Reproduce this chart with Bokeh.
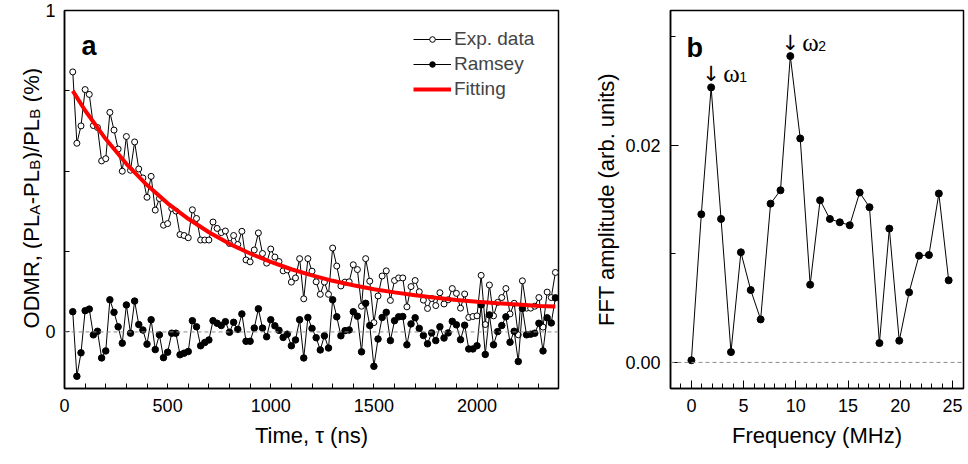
import math
from bokeh.plotting import figure
from bokeh.models import (FixedTicker, Span, Label, Legend, LegendItem,
                          NumeralTickFormatter, Range1d, ColumnDataSource)
from bokeh.layouts import row
from bokeh.embed import file_html
from bokeh.resources import INLINE

# ---------------- data: panel a ----------------
time_ns = [40, 60, 80, 100, 120, 140, 160, 180, 200, 220, 240, 260, 280, 300, 320, 340,
           360, 380, 400, 420, 440, 460, 480, 500, 520, 540, 560, 580, 600, 620, 640, 660,
           680, 700, 720, 740, 760, 780, 800, 820, 840, 860, 880, 900, 920, 940, 960, 980,
           1000, 1020, 1040, 1060, 1080, 1100, 1120, 1140, 1160, 1180, 1200, 1220, 1240,
           1260, 1280, 1300, 1320, 1340, 1360, 1380, 1400, 1420, 1440, 1460, 1480, 1500,
           1520, 1540, 1560, 1580, 1600, 1620, 1640, 1660, 1680, 1700, 1720, 1740, 1760,
           1780, 1800, 1820, 1840, 1860, 1880, 1900, 1920, 1940, 1960, 1980, 2000, 2020,
           2040, 2060, 2080, 2100, 2120, 2140, 2160, 2180, 2200, 2220, 2240, 2260, 2280,
           2300, 2320, 2340, 2360, 2380]

exp_data = [0.809, 0.587, 0.641, 0.754, 0.739, 0.642, 0.636, 0.532, 0.539, 0.683, 0.628,
            0.569, 0.500, 0.608, 0.503, 0.591, 0.507, 0.479, 0.419, 0.484, 0.379, 0.415,
            0.332, 0.337, 0.384, 0.376, 0.303, 0.300, 0.293, 0.380, 0.353, 0.286, 0.286,
            0.286, 0.342, 0.322, 0.309, 0.314, 0.275, 0.300, 0.272, 0.313, 0.224, 0.218,
            0.255, 0.308, 0.244, 0.214, 0.258, 0.233, 0.219, 0.190, 0.193, 0.155, 0.168,
            0.228, 0.103, 0.228, 0.189, 0.156, 0.117, 0.155, 0.117, 0.261, 0.205, 0.143,
            0.155, 0.156, 0.209, 0.194, 0.080, 0.228, 0.158, 0.029, 0.112, 0.174, 0.190,
            0.098, 0.160, 0.168, 0.168, 0.078, 0.141, 0.160, 0.125, 0.099, 0.073, 0.104,
            0.082, 0.122, 0.087, 0.100, 0.135, 0.120, 0.074, 0.118, 0.045, 0.048, 0.050,
            0.176, 0.023, 0.146, 0.050, 0.092, 0.107, 0.135, 0.056, 0.089, -0.009, 0.159,
            0.074, 0.074, 0.080, 0.107, 0.015, 0.124, 0.107, 0.185]

ramsey = [0.063, -0.138, -0.065, 0.066, 0.071, -0.009, 0.002, -0.081, -0.059, 0.100, 0.061,
          0.016, -0.035, 0.084, -0.004, 0.096, 0.023, 0.006, -0.038, 0.038, -0.055, -0.009,
          -0.080, -0.063, -0.004, -0.004, -0.071, -0.066, -0.061, 0.035, 0.016, -0.043,
          -0.033, -0.025, 0.035, 0.027, 0.020, 0.032, -0.001, 0.030, 0.008, 0.056, -0.029,
          -0.029, 0.012, 0.072, 0.012, -0.015, 0.038, 0.019, 0.005, -0.017, -0.007, -0.043,
          -0.025, 0.038, -0.081, 0.045, 0.011, -0.018, -0.056, -0.012, -0.050, 0.100, 0.047,
          -0.012, 0.004, 0.006, 0.063, 0.049, -0.062, 0.089, 0.020, -0.107, -0.022, 0.045,
          0.061, -0.027, 0.035, 0.047, 0.048, -0.040, 0.025, 0.044, 0.011, -0.011, -0.037,
          -0.003, -0.027, 0.016, -0.019, -0.003, 0.033, 0.022, -0.024, 0.021, -0.053, -0.053,
          -0.043, 0.084, -0.070, 0.053, -0.040, 0.001, 0.020, 0.047, -0.032, 0.002, -0.092,
          0.073, -0.009, -0.007, -0.004, 0.027, -0.059, 0.044, 0.028, 0.106]

fit_time = [40, 100, 200, 300, 400, 500, 600, 700, 800, 900, 1000, 1100, 1200, 1300, 1400,
            1500, 1600, 1700, 1800, 1900, 2000, 2100, 2200, 2300, 2380]
fit_vals = [0.750, 0.689, 0.600, 0.523, 0.457, 0.400, 0.352, 0.310, 0.274, 0.244, 0.218,
            0.195, 0.176, 0.159, 0.145, 0.133, 0.123, 0.114, 0.106, 0.0995, 0.094, 0.089,
            0.085, 0.081, 0.079]

xa_major = [0, 500, 1000, 1500, 2000]
xa_minor = [100, 200, 300, 400, 600, 700, 800, 900, 1100, 1200, 1300, 1400, 1600, 1700,
            1800, 1900, 2100, 2200, 2300]
ya_major = [0, 1]
ya_minor = [0.25, 0.5, 0.75]

# ---------------- data: panel b ----------------
freq_mhz = [0.0, 0.95, 1.89, 2.84, 3.79, 4.74, 5.68, 6.63, 7.58, 8.53, 9.47, 10.42, 11.37,
            12.32, 13.26, 14.21, 15.16, 16.11, 17.05, 18.0, 18.95, 19.9, 20.84, 21.79,
            22.74, 23.69, 24.63]
fft_amp = [0.0002, 0.01364, 0.02532, 0.01321, 0.00095, 0.01014, 0.00666, 0.00396, 0.01462,
           0.01585, 0.0282, 0.02062, 0.00716, 0.01493, 0.01321, 0.0129, 0.01263, 0.01564,
           0.01429, 0.00178, 0.01232, 0.0020, 0.00645, 0.00983, 0.00989, 0.01555, 0.00756]

xb_major = [0, 5, 10, 15, 20, 25]
xb_minor = [-1, 1, 2, 3, 4, 6, 7, 8, 9, 11, 12, 13, 14, 16, 17, 18, 19, 21, 22, 23, 24]
yb_major = [0.0, 0.02]
yb_minor = [0.01, 0.03]

FONT = "Liberation Sans"
H = 462
TOP_A, BOT_A = 10, 390          # frame top / bottom of panel a (page pixels)


def style_axes(p):
    p.xgrid.visible = False
    p.ygrid.visible = False
    p.outline_line_color = "black"
    p.outline_line_width = 1.5
    p.background_fill_color = "white"
    p.border_fill_color = "white"
    for ax in (p.xaxis[0], p.yaxis[0]):
        ax.axis_line_width = 1.5
        ax.axis_line_color = "black"
        ax.major_tick_line_color = "black"
        ax.minor_tick_line_color = "black"
        ax.major_tick_line_width = 1
        ax.minor_tick_line_width = 1
        ax.major_tick_out = 0
        ax.minor_tick_out = 0
        ax.major_label_text_font = FONT
        ax.major_label_text_font_size = "18px"
        ax.major_label_text_color = "black"
        ax.axis_label_text_font = FONT
        ax.axis_label_text_font_size = "22px"
        ax.axis_label_text_font_style = "normal"
        ax.axis_label_text_color = "black"


# ---------------- y-axis title strip for panel a (with subscripts) ----------------
# its frame spans exactly the same rows as panel a's frame; data units = page pixels
STRIP_W = 42
plab = figure(width=STRIP_W, height=H, output_backend="svg", toolbar_location=None,
              x_range=Range1d(0, STRIP_W), y_range=Range1d(H - BOT_A, H - TOP_A),
              x_axis_type=None, y_axis_type=None,
              min_border_left=0, min_border_right=0, min_border_top=TOP_A,
              min_border_bottom=H - BOT_A)
plab.xgrid.visible = False
plab.ygrid.visible = False
plab.outline_line_color = None
plab.background_fill_color = "white"
plab.border_fill_color = "white"

W = {"O": .778, "D": .722, "M": .833, "R": .722, ",": .278, " ": .278, "(": .333,
     "P": .667, "L": .556, "-": .333, ")": .333, "/": .278, "%": .889, "A": .667, "B": .667}
MAIN_FS, SUB_FS = 22, 15
MAIN_X, SUB_X = 31, 34


def twidth(txt, fs):
    return sum(W[c] for c in txt) * fs


first_txt = "ODMR, (PL"
y_cursor = (H - 329.0) + twidth(first_txt, MAIN_FS)
plab.add_layout(Label(x=MAIN_X, y=y_cursor, text=first_txt, angle=math.pi / 2,
                      angle_units="rad", text_align="right", text_baseline="alphabetic",
                      text_font=FONT, text_font_size=f"{MAIN_FS}px", text_color="black"))
for txt, sub in [("A", True), ("-PL", False), ("B", True), (")/PL", False),
                 ("B", True), (" (%)", False)]:
    fs = SUB_FS if sub else MAIN_FS
    lead = len(txt) - len(txt.lstrip(" "))
    y_start = y_cursor + lead * W[" "] * fs
    plab.add_layout(Label(x=SUB_X if sub else MAIN_X, y=y_start, text=txt.strip(" "),
                          angle=math.pi / 2, angle_units="rad", text_align="left",
                          text_baseline="alphabetic", text_font=FONT,
                          text_font_size=f"{fs}px", text_color="black"))
    y_cursor += twidth(txt, fs) + 0.5

# ---------------- panel a ----------------
pa = figure(width=590 - STRIP_W, height=H, output_backend="svg", toolbar_location=None,
            x_range=Range1d(0, 2395), y_range=Range1d(-0.176, 1.0),
            min_border_left=63 - STRIP_W, min_border_right=32, min_border_top=TOP_A,
            min_border_bottom=H - BOT_A)
style_axes(pa)
pa.xaxis.ticker = FixedTicker(ticks=xa_major, minor_ticks=xa_minor)
pa.yaxis.ticker = FixedTicker(ticks=ya_major, minor_ticks=ya_minor)
pa.xaxis.major_tick_in = 5
pa.xaxis.minor_tick_in = 5
pa.yaxis.major_tick_in = 5
pa.yaxis.minor_tick_in = 5
pa.xaxis.major_label_standoff = 10
pa.yaxis.major_label_standoff = 9
pa.xaxis.axis_label = "Time, τ (ns)"
pa.xaxis.axis_label_standoff = 8

pa.add_layout(Span(location=0, dimension="width", line_color="#8c8c8c",
                   line_dash="4 3", line_width=1))

src_a = ColumnDataSource(dict(t=time_ns, e=exp_data, r=ramsey))
src_fit = ColumnDataSource(dict(t=fit_time, f=fit_vals))

r_el = pa.line("t", "e", source=src_a, line_color="black", line_width=1)
r_es = pa.scatter("t", "e", source=src_a, marker="circle", size=6, fill_color="white",
                  line_color="black", line_width=1)
r_rl = pa.line("t", "r", source=src_a, line_color="black", line_width=1)
r_rs = pa.scatter("t", "r", source=src_a, marker="circle", size=6.5, fill_color="black",
                  line_color="black")
r_fit = pa.line("t", "f", source=src_fit, line_color="#ff0000", line_width=4)

legend = Legend(items=[LegendItem(label="Exp. data", renderers=[r_el, r_es]),
                       LegendItem(label="Ramsey", renderers=[r_rl, r_rs]),
                       LegendItem(label="Fitting", renderers=[r_fit])],
                location=(349, 288), padding=0, margin=0, spacing=3,
                glyph_width=38, glyph_height=14, label_standoff=3,
                label_text_font=FONT, label_text_font_size="19px",
                background_fill_alpha=0, border_line_alpha=0)
pa.add_layout(legend)

pa.add_layout(Label(x=17, y=343, x_units="screen", y_units="screen", text="a",
                    text_font=FONT, text_font_size="27px", text_font_style="bold",
                    text_baseline="alphabetic", text_color="black"))

# ---------------- panel b ----------------
pb = figure(width=376, height=H, output_backend="svg", toolbar_location=None,
            x_range=Range1d(-2.0, 26.05), y_range=Range1d(-0.0024, 0.0324),
            min_border_left=80, min_border_right=3, min_border_top=10,
            min_border_bottom=H - 388)
style_axes(pb)
pb.xaxis.ticker = FixedTicker(ticks=xb_major, minor_ticks=xb_minor)
pb.yaxis.ticker = FixedTicker(ticks=yb_major, minor_ticks=yb_minor)
pb.yaxis.formatter = NumeralTickFormatter(format="0.00")
pb.xaxis.major_tick_in = 8
pb.xaxis.minor_tick_in = 5
pb.yaxis.major_tick_in = 8
pb.yaxis.minor_tick_in = 5
pb.xaxis.major_label_standoff = 10
pb.yaxis.major_label_standoff = 10
pb.xaxis.axis_label = "Frequency (MHz)"
pb.xaxis.axis_label_standoff = 8
pb.yaxis.axis_label = "FFT amplitude (arb. units)"
pb.yaxis.axis_label_standoff = 3

pb.add_layout(Span(location=0, dimension="width", line_color="#8c8c8c",
                   line_dash="4 3", line_width=1))

src_b = ColumnDataSource(dict(f=freq_mhz, a=fft_amp))
pb.line("f", "a", source=src_b, line_color="black", line_width=1)
pb.scatter("f", "a", source=src_b, marker="circle", size=7, fill_color="black",
           line_color="black")

pb.add_layout(Label(x=16, y=341, x_units="screen", y_units="screen", text="b",
                    text_font=FONT, text_font_size="27px", text_font_style="bold",
                    text_baseline="alphabetic", text_color="black"))

# peak markers omega_1 and omega_2
peak1 = 2
peak2 = 10
for idx, subtxt in ((peak1, "1"), (peak2, "2")):
    px, py = freq_mhz[idx], fft_amp[idx]
    pb.add_layout(Label(x=px, y=py, y_offset=13, text="↓", text_align="center",
                        text_baseline="alphabetic", text_font="DejaVu Sans",
                        text_font_size="21px", text_color="black"))
    pb.add_layout(Label(x=px, y=py, x_offset=12, y_offset=14, text="ω", text_align="left",
                        text_baseline="alphabetic", text_font="Liberation Serif",
                        text_font_size="25px", text_color="black"))
    pb.add_layout(Label(x=px, y=py, x_offset=28, y_offset=10, text=subtxt,
                        text_align="left", text_baseline="alphabetic", text_font=FONT,
                        text_font_size="14px", text_color="black"))

layout = row(plab, pa, pb)
open("out.html", "w").write(file_html(layout, INLINE))
